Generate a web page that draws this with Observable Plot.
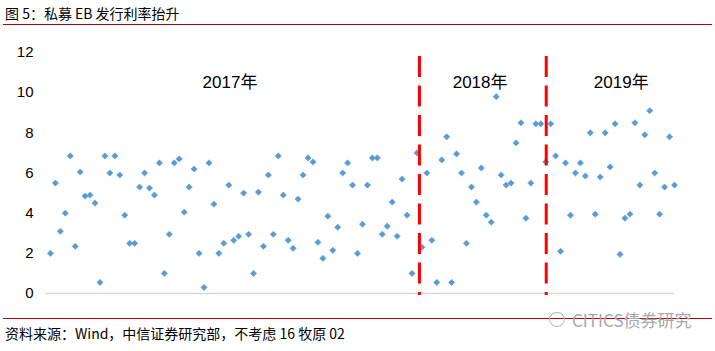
<!DOCTYPE html>
<html>
<head>
<meta charset="utf-8">
<script src="https://cdn.jsdelivr.net/npm/d3@7"></script>
<script src="https://cdn.jsdelivr.net/npm/@observablehq/plot@0.6"></script>
<style>
  html, body { margin: 0; padding: 0; background: #fff; }
  #wrap { position: relative; width: 715px; height: 351px; overflow: hidden; font-family: "Liberation Sans", Arial, "Noto Sans CJK SC", sans-serif; }
  #title { position: absolute; left: 0; top: 0; width: 715px; height: 24px; }
  #title span { position: absolute; left: 5px; top: 5px; font-size: 14px; color: #000; font-family: "Noto Sans CJK SC", sans-serif; line-height: 16px; }
  .redline { position: absolute; left: 3px; width: 709px; height: 1px; background: #b0000b; }
  #chart { position: absolute; left: 0; top: 28px; }
  #source { position: absolute; left: 5px; top: 325px; font-size: 14px; color: #000; font-family: "Noto Sans CJK SC", sans-serif; line-height: 16px; white-space: nowrap; }
  #mark { position: absolute; left: 572px; top: 310px; font-size: 17px; color: #a8a8a8; font-family: "Noto Sans CJK SC", sans-serif; line-height: 20px; white-space: nowrap; }
  #icon { position: absolute; left: 549px; top: 312px; width: 14px; height: 13px; border: 1.2px solid #b8b8b8; border-radius: 50%; }
</style>
</head>
<body>
<div id="wrap">
  <div id="title"><span>图 5：私募 EB 发行利率抬升</span></div>
  <div class="redline" style="top:24px"></div>
  <div id="chart"></div>
  <div class="redline" style="top:318px"></div>
  <div id="icon"></div>
  <div id="mark">CITICS债券研究</div>
  <div id="source">资料来源：Wind，中信证券研究部，不考虑 16 牧原 02</div>
</div>
<script>
// Issuance rates (%) in issue order
const rates2017 = [
  2.0, 5.5, 3.1, 4.0, 6.85, 2.35, 6.05, 4.85, 4.9, 4.5,
  0.55, 6.85, 6.0, 6.85, 5.9, 3.9, 2.5, 2.5, 5.3, 6.0,
  5.25, 4.9, 6.5, 1.0, 2.95, 6.5, 6.7, 4.05, 5.3, 6.2,
  2.0, 0.3, 6.5, 4.45, 2.0, 2.5, 5.4, 2.65, 2.85, 5.0,
  2.95, 1.0, 5.05, 2.35, 5.9, 2.95, 6.85, 4.9, 2.65, 2.25,
  4.7, 5.9, 6.75, 6.55, 2.55, 1.75, 3.85, 2.15, 3.3, 6.0,
  6.5, 5.4, 2.0, 3.45, 5.4, 6.75, 6.75, 2.95, 3.35, 4.55,
  2.85, 5.7, 3.9, 1.0, 7.0
];
const rates2018 = [
  2.3, 6.0, 2.65, 0.55, 6.65, 7.8, 0.55, 6.95, 6.0, 2.5,
  5.3, 4.55, 6.25, 3.9, 3.55, 9.8, 5.9, 5.4, 5.5, 7.5,
  8.5, 3.75, 5.5, 8.45, 8.45, 6.55
];
const rates2019 = [
  8.45, 6.85, 2.1, 6.5, 3.9, 6.0, 6.5, 5.85, 8.0, 3.95,
  5.8, 8.0, 6.3, 8.45, 1.95, 3.75, 3.95, 8.5, 5.4, 7.9,
  9.1, 6.0, 3.95, 5.3, 7.8, 5.4
];
const years = ["2017年", "2018年", "2019年"];
const yTicks = [0, 2, 4, 6, 8, 10, 12];

const groups = [rates2017, rates2018, rates2019];
const points = [];
const segments = [];
let idx = 0;
groups.forEach((arr, g) => {
  const start = idx + 0.5;
  arr.forEach(v => { idx += 1; points.push({i: idx, v}); });
  segments.push({year: years[g], start, end: idx + 0.5});
});
const total = idx;
// divider drawn through the last issue of each year, as in the source chart
const dividers = segments.slice(0, -1).map((s, k) => ({x: k === 0 ? s.end : s.end - 0.4}));
const labels = segments.map((s, k) => ({year: s.year, x: k === groups.length - 1 ? (s.start + total + 4) / 2 : (s.start - 1.5 + s.end) / 2}));

const chart = Plot.plot({
  width: 715,
  height: 285,
  marginLeft: 45,
  marginRight: 41,
  marginTop: 24,
  marginBottom: 20,
  style: { fontFamily: '"Liberation Sans", Arial, "Noto Sans CJK SC", sans-serif', fontSize: "15px", color: "#000", background: "transparent", overflow: "visible" },
  x: { domain: [0, total], axis: null },
  y: { domain: [0, 12], ticks: yTicks, tickSize: 0, tickPadding: 12, label: null, tickFormat: d => String(d) },
  marks: [
    Plot.ruleY([0], { stroke: "#d9d9d9", strokeWidth: 1.5 }),
    Plot.dot(points, { x: "i", y: "v", symbol: "diamond2", r: 2.8, fill: "#5b9bd5", stroke: "#5b9bd5", strokeWidth: 0.6 }),
    Plot.ruleX(dividers, { x: "x", stroke: "#ff0000", strokeWidth: 3, strokeDasharray: "21,8.5", insetTop: 4, insetBottom: -2 }),
    Plot.text(labels, { x: "x", text: "year", frameAnchor: "top", dy: 23, fontSize: 17, fill: "#000" })
  ]
});
document.getElementById("chart").appendChild(chart);
</script>
</body>
</html>
